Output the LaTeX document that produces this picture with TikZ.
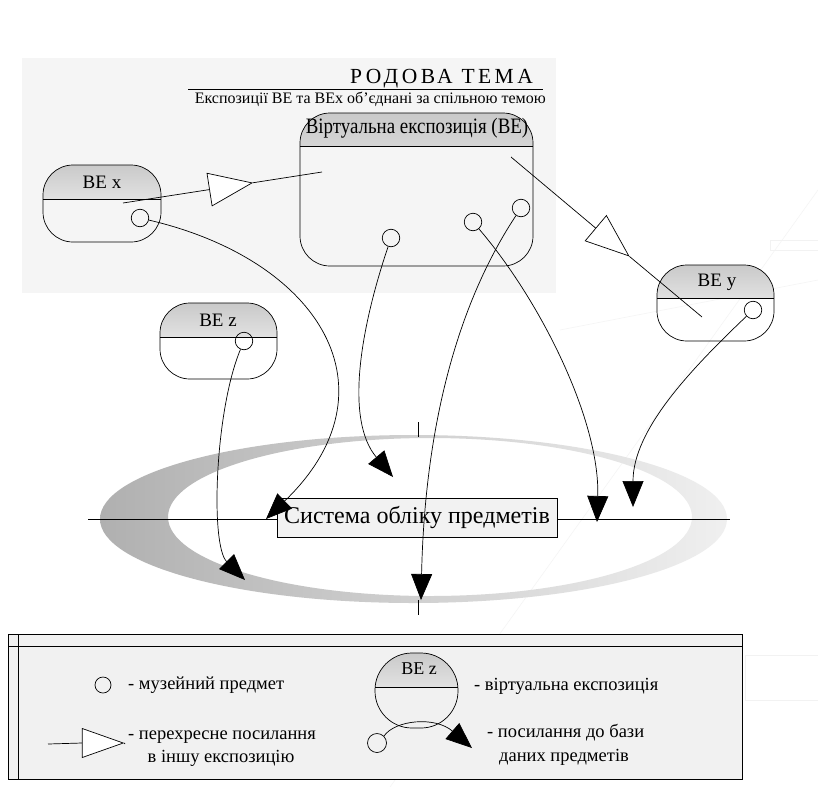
\documentclass[tikz,border=0pt]{standalone}
\usepackage{fontspec}
\setmainfont{Liberation Serif}
\newfontfamily\spacedfont{Liberation Serif}[LetterSpace=16]
\usetikzlibrary{arrows.meta,shapes.geometric}
\tikzset{
  hdr/.store in=\hdrh, hdr=34pt,
  vebox/.style={draw, line width=0.7pt, rounded corners=#1, inner sep=0pt,
    path picture={
      \shade[sharp corners, top color=gray!42, bottom color=white]
        (path picture bounding box.north west) rectangle
        ([yshift=-\hdrh]path picture bounding box.north east);
      \draw[sharp corners, line width=1pt]
        ([yshift=-\hdrh]path picture bounding box.north west) --
        ([yshift=-\hdrh]path picture bounding box.north east);}},
  vebox/.default=30pt,
  lbl/.style={inner sep=0pt, font=\fontsize{19}{21}\selectfont},
  item/.style={circle, draw, line width=0.7pt, minimum size=17.5pt, inner sep=0pt},
  dblink/.style={draw, line width=0.7pt, -{Triangle[length=26pt,width=21pt]}},
  xref/.style={isosceles triangle, isosceles triangle stretches, draw, fill=white,
    line width=0.7pt, minimum width=33pt, minimum height=43pt, inner sep=0pt},
  xline/.style={draw, line width=0.7pt},
  legtxt/.style={inner sep=0pt, font=\fontsize{18.5}{20}\selectfont},
}
\begin{document}
\begin{tikzpicture}[x=1pt,y=-1pt]
\useasboundingbox[fill=white] (0,0) rectangle (818,787);
% faint background decoration
\draw[gray!8, line width=0.6pt] (818,190) -- (390,787);
\draw[gray!8, line width=0.6pt] (560,330) -- (818,280);
\draw[gray!10, line width=0.6pt] (770,240) rectangle (818,250);
\draw[gray!10, line width=0.6pt] (745,655) rectangle (818,700);

% theme panel
\fill[gray!8] (22,58) rectangle (556,293);
\node[anchor=base east, inner sep=0pt, font=\spacedfont\fontsize{21.5}{23}\selectfont] (title) at (533,83) {РОДОВА ТЕМА};
\draw[line width=0.8pt] (188,89) -- (543,89);
\node[anchor=base east, inner sep=0pt, font=\fontsize{16}{18}\selectfont] (subtitle) at (546,103) {Експозиції ВЕ та ВЕх об’єднані за спільною темою};

% virtual expositions
\node[vebox, hdr=33pt, minimum width=233pt, minimum height=153pt] (ve) at (416.5,189.5) {};
\node[lbl, font=\fontsize{22}{24}\selectfont] (vel) at (417,128) {\scalebox{0.86}[1]{Віртуальна експозиція (ВЕ)}};
\node[vebox, minimum width=118pt, minimum height=77pt] (vex) at (102,203.5) {};
\node[lbl] (vexl) at (102,182) {ВЕ x};
\node[vebox, hdr=33pt, minimum width=117pt, minimum height=76pt] (vey) at (715.5,303) {};
\node[lbl] (veyl) at (717,282) {ВЕ y};
\node[vebox, minimum width=117pt, minimum height=76pt] (vez) at (218.5,341) {};
\node[lbl] (vezl) at (218,320) {ВЕ z};

% museum items
\node[item] (cx) at (140,218) {};
\node[item] (c1) at (391,238) {};
\node[item] (c2) at (473,222) {};
\node[item] (c3) at (521,208) {};
\node[item] (cy) at (753,310) {};
\node[item] (cz) at (244,341) {};

% cross references
\coordinate (xa1) at (123,203);
\coordinate (xb1) at (322,172);
\node[xref, rotate=8.9] (tr1) at (220.75,187.8) {};
\draw[xline] (xa1) -- (tr1.lower side);
\draw[xline] (tr1.apex) -- (xb1);
\coordinate (xa2) at (511,157);
\coordinate (xb2) at (702,317);
\node[xref, rotate=-40] (tr2) at (604.5,235.5) {};
\draw[xline] (xa2) -- (tr2.lower side);
\draw[xline] (tr2.apex) -- (xb2);

% accounting system
\shade[left color=gray!62, right color=gray!12, even odd rule]
  (413.5,519) ellipse [x radius=313.5, y radius=84]
  (430,517) ellipse [x radius=262, y radius=79];
\coordinate (hl) at (88,519);
\coordinate (hr) at (730,519);
\draw[line width=0.8pt] (hl) -- (hr);
\coordinate (vt1) at (418,422); \coordinate (vt2) at (418,437);
\coordinate (vb1) at (418,600); \coordinate (vb2) at (418,615);
\draw[line width=0.8pt] (vt1) -- (vt2);
\draw[line width=0.8pt] (vb1) -- (vb2);
\node[draw, line width=0.8pt, fill=gray!10, minimum width=280pt, minimum height=39pt, inner sep=0pt,
  font=\fontsize{24}{26}\selectfont] (sys) at (417,517.5) {Система обліку предметів};

% links to the item database
\coordinate (t1) at (266,519);
\coordinate (t2) at (393,477);
\coordinate (t3) at (597,522);
\coordinate (t4) at (421,600);
\coordinate (t5) at (633,507);
\coordinate (t6) at (245,580);
\draw[dblink] (cx) .. controls (320,260) and (400,390) .. (t1);
\draw[dblink] (c1) .. controls (360,330) and (345,420) .. (t2);
\draw[dblink] (c2) .. controls (540,300) and (600,420) .. (t3);
\draw[dblink] (c3) .. controls (460,300) and (425,420) .. (t4);
\draw[dblink] (cy) .. controls (690,370) and (633,430) .. (t5);
\draw[dblink] (cz) .. controls (215,410) and (210,545) .. (t6);

% legend
\draw[line width=0.8pt, fill=gray!11] (8,634) rectangle (742,779);
\draw[line width=0.8pt] (8,646) -- (742,646);
\draw[line width=0.8pt] (18,634) -- (18,779);
\node[item, minimum size=16pt] (lc) at (103,685) {};
\node[legtxt, anchor=west] (lct) at (128,685) {- музейний предмет};
\node[vebox=37pt, hdr=34pt, minimum width=83pt, minimum height=75pt] (lve) at (416.5,690.5) {};
\node[legtxt, font=\fontsize{18}{20}\selectfont] (lvel) at (419,669) {ВЕ z};
\node[legtxt, anchor=west] (lvet) at (474,686) {- віртуальна експозиція};
\coordinate (lxa) at (48,744);
\coordinate (lxb) at (125,744);
\node[xref, minimum width=29pt, minimum height=41pt] (ltr) at (92.5,743) {};
\draw[xline] (lxa) -- (ltr.lower side);
\draw[xline] (ltr.apex) -- (lxb);
\node[legtxt, anchor=west] (lxt1) at (128,737) {- перехресне посилання};
\node[legtxt] (lxt2) at (221,758) {в іншу експозицію};
\node[circle, draw, line width=0.7pt, minimum width=17pt, minimum height=19pt, inner sep=0pt] (le) at (377,743) {};
\coordinate (ltip) at (472,748);
\draw[dblink] (le.north east) .. controls (395,720) and (435,716) .. (ltip);
\node[legtxt, anchor=west] (ldt1) at (487,733) {- посилання до бази};
\node[legtxt] (ldt2) at (564,757) {даних предметів};
\end{tikzpicture}
\end{document}
